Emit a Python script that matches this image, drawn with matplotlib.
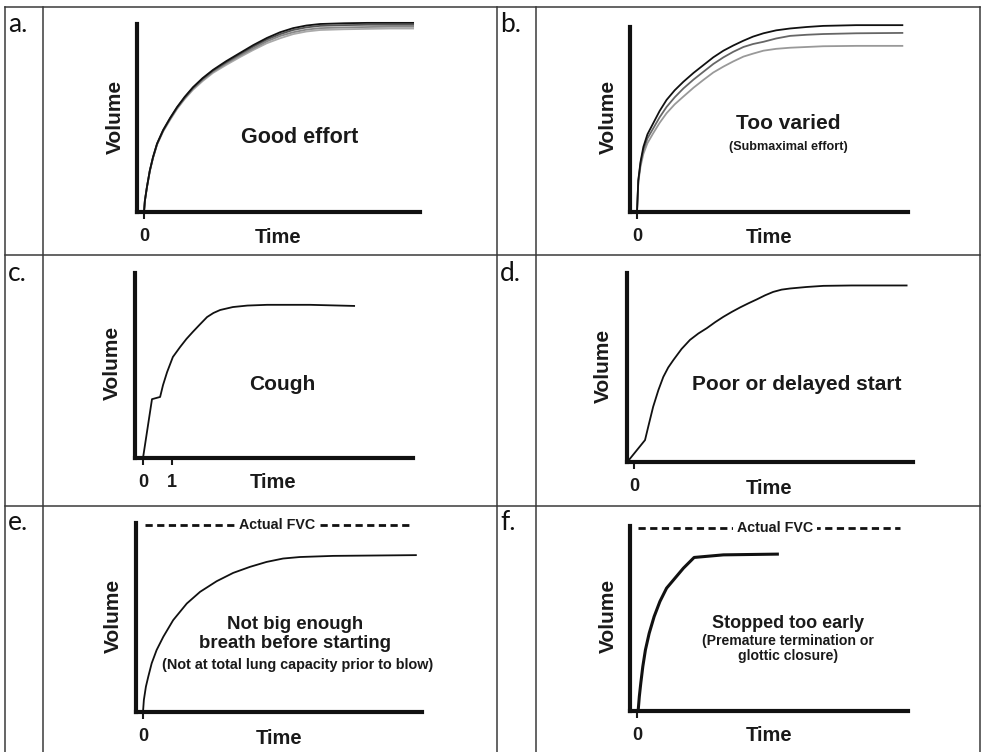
"""
Spirometry volume-time curves: good effort and five common faults
"""
import matplotlib
matplotlib.use("Agg")
import matplotlib.pyplot as plt
from matplotlib.lines import Line2D
from matplotlib.transforms import Affine2D

W, H = 981, 752
PX_PER_SEC = 29

# a. good effort - near identical blows
a_t = [0, 0.03, 0.10, 0.20, 0.31, 0.45, 0.66, 0.90, 1.14, 1.40, 1.69, 2.02, 2.38, 2.83, 3.31,
       3.77, 4.24, 4.69, 5.14, 5.60, 6.07, 6.90, 7.69, 8.50, 9.28]
a_v1 = [0, 0.30, 0.66, 1.10, 1.46, 1.82, 2.18, 2.50, 2.79, 3.06, 3.32, 3.56, 3.78, 4.01, 4.23,
        4.44, 4.63, 4.78, 4.89, 4.96, 5.00, 5.02, 5.03, 5.03, 5.03]
a_v2 = [0, 0.30, 0.66, 1.10, 1.45, 1.81, 2.17, 2.49, 2.78, 3.04, 3.30, 3.54, 3.76, 3.98, 4.20,
        4.40, 4.59, 4.73, 4.84, 4.91, 4.95, 4.97, 4.98, 4.98, 4.98]
a_v3 = [0, 0.29, 0.65, 1.09, 1.44, 1.80, 2.16, 2.47, 2.76, 3.02, 3.28, 3.51, 3.73, 3.95, 4.16,
        4.35, 4.54, 4.68, 4.78, 4.85, 4.89, 4.91, 4.92, 4.93, 4.93]
a_v4 = [0, 0.29, 0.65, 1.08, 1.43, 1.79, 2.14, 2.45, 2.74, 3.00, 3.25, 3.48, 3.70, 3.91, 4.12,
        4.31, 4.49, 4.62, 4.73, 4.80, 4.84, 4.86, 4.87, 4.88, 4.88]

# b. too varied
b_t = [0, 0.045, 0.12, 0.22, 0.36, 0.56, 0.78, 1.02, 1.30, 1.60, 1.95, 2.29, 2.63, 2.98, 3.32,
       3.67, 4.00, 4.36, 4.80, 5.28, 5.85, 6.42, 7.56, 9.15]
b_v1 = [0, 0.86, 1.35, 1.76, 2.10, 2.40, 2.73, 3.03, 3.29, 3.52, 3.76, 3.97, 4.18, 4.36, 4.50,
        4.63, 4.74, 4.83, 4.91, 4.96, 5.00, 5.03, 5.05, 5.05]
b_v2 = [0, 0.84, 1.30, 1.68, 1.99, 2.26, 2.56, 2.84, 3.10, 3.34, 3.58, 3.79, 4.00, 4.18, 4.33,
        4.46, 4.54, 4.60, 4.69, 4.76, 4.79, 4.81, 4.83, 4.84]
b_v3 = [0, 0.80, 1.22, 1.57, 1.86, 2.13, 2.41, 2.67, 2.91, 3.12, 3.36, 3.57, 3.77, 3.93, 4.07,
        4.20, 4.28, 4.36, 4.41, 4.44, 4.46, 4.48, 4.49, 4.49]

# c. cough
c_t = [0, 0.31, 0.59, 0.69, 0.83, 1.03, 1.28, 1.50, 1.72, 1.95, 2.21, 2.43, 2.66, 3.10, 3.60,
       4.28, 5.76, 7.28]
c_v = [0, 1.59, 1.65, 1.97, 2.32, 2.73, 3.00, 3.22, 3.41, 3.60, 3.81, 3.92, 4.00, 4.08, 4.12,
       4.14, 4.14, 4.11]

# d. poor or delayed start
d_t = [-0.20, 0.38, 0.49, 0.66, 0.84, 1.01, 1.18, 1.36, 1.64, 1.93, 2.22, 2.51, 2.80, 3.08,
       3.37, 3.66, 3.95, 4.23, 4.52, 4.80, 5.09, 5.38, 5.95, 6.53, 7.50, 9.40]
d_v = [0.03, 0.58, 0.93, 1.46, 1.90, 2.25, 2.50, 2.70, 2.99, 3.23, 3.40, 3.54, 3.70, 3.84,
       3.97, 4.09, 4.20, 4.30, 4.41, 4.50, 4.56, 4.59, 4.63, 4.66, 4.67, 4.67]

# e. not big enough breath
e_t = [0, 0.03, 0.10, 0.18, 0.30, 0.47, 0.70, 1.04, 1.51, 1.97, 2.54, 3.11, 3.69, 4.26, 4.83,
       5.41, 6.56, 9.41]
e_v = [0, 0.32, 0.67, 0.93, 1.29, 1.64, 1.99, 2.43, 2.87, 3.18, 3.46, 3.68, 3.84, 3.97, 4.06,
       4.10, 4.13, 4.15]
e_fvc = 4.95
e_fvc_span = [0.07, 9.31]

# f. stopped too early
f_t = [0.04, 0.08, 0.13, 0.20, 0.29, 0.42, 0.59, 0.79, 1.02, 1.31, 1.60, 1.97, 2.98, 4.84]
f_v = [0.01, 0.39, 0.75, 1.20, 1.65, 2.10, 2.55, 2.96, 3.32, 3.59, 3.86, 4.15, 4.22, 4.24]
f_fvc = 4.95
f_fvc_span = [0.03, 9.07]

plt.rcParams["font.family"] = ["Liberation Sans", "DejaVu Sans"]
plt.rcParams["font.weight"] = "bold"

fig = plt.figure(figsize=(W / 100, H / 100), dpi=100)
PX = Affine2D().scale(1 / W, -1 / H).translate(0, 1) + fig.transFigure


def ptext(x, y, s, size, **kw):
    kw.setdefault("ha", "center")
    kw.setdefault("va", "baseline")
    kw.setdefault("color", "#1a1a1a")
    fig.text(x, y, s, fontsize=size, transform=PX, **kw)


def make_axes(x0, xt, x1, y0, y1, ticks):
    top = y1 - 12
    ax = fig.add_axes([x0 / W, 1 - y0 / H, (x1 - x0) / W, (y0 - top) / H])
    ax.set_xlim((x0 - xt) / PX_PER_SEC, (x1 - xt) / PX_PER_SEC)
    ax.set_ylim(0, 5 * (y0 - top) / (y0 - y1))
    ax.patch.set_alpha(0)
    for s in ("top", "right"):
        ax.spines[s].set_visible(False)
    for s in ("left", "bottom"):
        ax.spines[s].set_linewidth(3)
        ax.spines[s].set_color("#111111")
        ax.spines[s].set_capstyle("projecting")
    ax.spines["left"].set_bounds(0, 5)
    ax.set_yticks([])
    ax.set_xticks(ticks)
    ax.set_xticklabels([str(t) for t in ticks])
    ax.tick_params(axis="x", length=5, width=1.5, pad=6.5, labelsize=13, colors="#1a1a1a")
    return ax


# table grid
grid = dict(color="#3a3a3a", lw=1.1)
for y in (7, 255, 506):
    fig.add_artist(Line2D([5, 980], [y, y], transform=PX, **grid))
for x in (5, 43, 497, 536, 980):
    fig.add_artist(Line2D([x, x], [7, 752], transform=PX, **grid))

for lbl, x, y in [("a.", 8, 32), ("b.", 500, 32), ("c.", 8, 281),
                  ("d.", 500, 281), ("e.", 8, 530), ("f.", 500, 530)]:
    ptext(x, y, lbl, 19, ha="left", family="Lato", weight="normal", color="#111111")

# a
ax = make_axes(137, 144, 420, 212, 24, [0])
for v, col in zip([a_v4, a_v3, a_v2, a_v1], ["#aaaaaa", "#888888", "#555555", "#111111"]):
    ax.plot(a_t, v, color=col, lw=1.3, clip_on=False)
ptext(300, 143, "Good effort", 15.5)

# b
ax = make_axes(630, 637, 908, 212, 27, [0])
for v, col in zip([b_v3, b_v2, b_v1], ["#999999", "#666666", "#111111"]):
    ax.plot(b_t, v, color=col, lw=1.3, clip_on=False)
ptext(788, 129, "Too varied", 15)
ptext(788, 150, "(Submaximal effort)", 9.1)

# c
ax = make_axes(135, 143, 413, 458, 273, [0, 1])
ax.plot(c_t, c_v, color="#111111", lw=1.3, clip_on=False)
ptext(282, 390, "Cough", 15)

# d
ax = make_axes(627, 634, 913, 462, 273, [0])
ax.plot(d_t, d_v, color="#111111", lw=1.3, clip_on=False)
ptext(797, 390, "Poor or delayed start", 15)

# e
ax = make_axes(136, 143, 422, 712, 523, [0])
ax.plot(e_t, e_v, color="#111111", lw=1.3, clip_on=False)
ax.plot(e_fvc_span, [e_fvc, e_fvc], color="#111111", lw=2, ls=(0, (2.6, 1.6)), clip_on=False)
ax.text(sum(e_fvc_span) / 2 - 0.05, e_fvc, "Actual FVC", ha="center", va="center", fontsize=10.3,
        color="#1a1a1a", bbox=dict(fc="white", ec="none", pad=2.5))
ptext(295, 629, "Not big enough", 13.4)
ptext(295, 648, "breath before starting", 13.4)
ptext(298, 669, "(Not at total lung capacity prior to blow)", 10.4)

# f
ax = make_axes(630, 637, 908, 711, 526, [0])
ax.plot(f_t, f_v, color="#111111", lw=2.2, clip_on=False)
ax.plot(f_fvc_span, [f_fvc, f_fvc], color="#111111", lw=2, ls=(0, (2.6, 1.6)), clip_on=False)
ax.text(sum(f_fvc_span) / 2 + 0.2, f_fvc, "Actual FVC", ha="center", va="center", fontsize=10.3,
        color="#1a1a1a", bbox=dict(fc="white", ec="none", pad=3))
ptext(788, 628, "Stopped too early", 13)
ptext(788, 645, "(Premature termination or", 10.1)
ptext(788, 660, "glottic closure)", 10.1)

# axis titles
for x, y in [(115, 117), (608, 117), (112, 363), (603, 366), (113, 616), (608, 616)]:
    ptext(x, y, "Volume", 15, rotation=90, va="center")
for x, y in [(278, 243), (769, 243), (273, 488), (769, 494), (279, 744), (769, 741)]:
    ptext(x, y, "Time", 14.5)

fig.savefig("out.png", dpi=100)
